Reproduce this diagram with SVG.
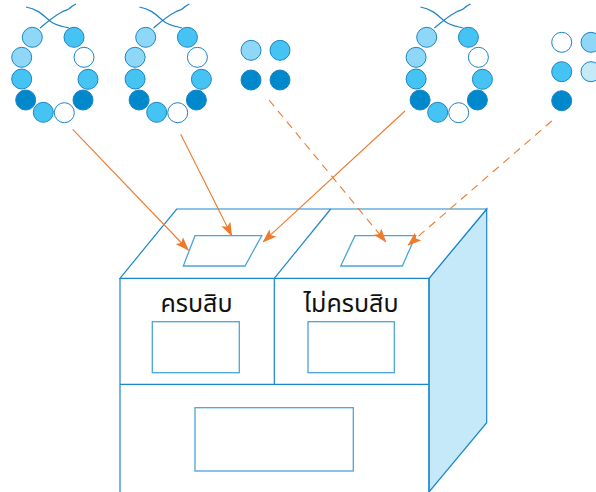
<svg xmlns="http://www.w3.org/2000/svg" width="596" height="492" viewBox="0 0 596 492">
  <style>
    .bead { stroke: #1a84c6; stroke-width: 1; }
    .b0 { fill: #ffffff; }
    .b1 { fill: #8fd7f6; }
    .b2 { fill: #45c3f2; }
    .b3 { fill: #0088cc; }
    .b4 { fill: #c6e9f8; }
    .string { fill: none; stroke: #1a84c6; stroke-width: 1.2; }
    .edge { fill: none; stroke: #1a86cc; stroke-width: 1.2; }
    .face { fill: #ffffff; stroke: #1a86cc; stroke-width: 1.2; }
    .side { fill: #c5e9f8; stroke: #1a86cc; stroke-width: 1.2; }
    .panel { fill: #ffffff; stroke: #4aa5dc; stroke-width: 1.3; }
    .label { font-family: "Noto Sans Thai", "Noto Sans", "DejaVu Sans", sans-serif; font-size: 25px; fill: #111111; text-anchor: middle; }
    .arrow { fill: none; stroke: #f07a2a; stroke-width: 1.1; marker-end: url(#head); }
    .dashed { stroke-dasharray: 8 6; }
  </style>
  <defs>
    <marker id="head" viewBox="0 0 14 10" refX="13" refY="5" markerWidth="14" markerHeight="10" markerUnits="userSpaceOnUse" orient="auto">
      <path d="M0,0 L14,5 L0,10 L3,5 Z" fill="#f07a2a"/>
    </marker>
    <!-- one ten-bead necklace, drawn at the origin -->
    <g id="necklace">
      <path class="string" d="M26,7 C38,9 44,16 50,21 S62,26 69,28"/>
      <path class="string" d="M40,28 C46,23 54,16 62,12 C66,10 68,10 70,8 C72,6 74,5 76,4"/>
      <circle class="bead b1" cx="32.3" cy="37.3" r="10"/>
      <circle class="bead b2" cx="74" cy="37.3" r="10"/>
      <circle class="bead b1" cx="21.7" cy="57.3" r="10"/>
      <circle class="bead b0" cx="84" cy="57.3" r="10"/>
      <circle class="bead b2" cx="21.7" cy="79" r="10"/>
      <circle class="bead b2" cx="88" cy="79.3" r="10"/>
      <circle class="bead b3" cx="25.7" cy="100" r="10"/>
      <circle class="bead b3" cx="83" cy="100" r="10"/>
      <circle class="bead b2" cx="43.3" cy="112.3" r="10"/>
      <circle class="bead b0" cx="64.3" cy="112.7" r="10"/>
    </g>
  </defs>

  <!-- necklaces and loose beads -->
  <g id="necklace-1"><use href="#necklace"/></g>
  <g id="necklace-2"><use href="#necklace" transform="translate(113.4 0)"/></g>
  <g id="beads-4">
    <circle class="bead b1" cx="251" cy="50.3" r="10"/>
    <circle class="bead b2" cx="280" cy="50.3" r="10"/>
    <circle class="bead b3" cx="251" cy="80" r="10"/>
    <circle class="bead b3" cx="280" cy="80" r="10"/>
  </g>
  <g id="necklace-3"><use href="#necklace" transform="translate(394.4 0)"/></g>
  <g id="beads-5">
    <circle class="bead b0" cx="561.7" cy="42.3" r="10"/>
    <circle class="bead b1" cx="591" cy="42.3" r="10"/>
    <circle class="bead b2" cx="561.7" cy="71.7" r="10"/>
    <circle class="bead b4" cx="591" cy="71.7" r="10"/>
    <circle class="bead b3" cx="561.7" cy="100.7" r="10"/>
  </g>

  <!-- sorting box -->
  <g id="box">
    <polygon class="side" points="429,278.3 486.7,209 486.7,422.7 429,492"/>
    <polygon class="face" points="176.7,209 486.7,209 429,278.3 120,278.3"/>
    <line class="edge" x1="330.7" y1="209" x2="274.3" y2="278.3"/>
    <polygon class="panel" points="195,235.7 261.7,235.7 245,266 183.3,266"/>
    <polygon class="panel" points="355,235.7 415.7,235.7 402.3,266 340.7,266"/>
    <path class="edge" d="M120,278.3 V492 M429,278.3 V492 M274.3,278.3 V384.3 M120,384.3 H429"/>
    <rect class="panel" x="152.3" y="321.7" width="87" height="51"/>
    <rect class="panel" x="308" y="321.7" width="86.3" height="51"/>
    <rect class="panel" x="195" y="407.7" width="158.3" height="63.3"/>
  </g>
  <g id="label-ten"><text class="label" x="196.5" y="311.5">ครบสิบ</text></g>
  <g id="label-not-ten"><text class="label" x="351" y="311.5">ไม่ครบสิบ</text></g>

  <!-- connectors: solid into the full-ten slot, dashed into the other -->
  <g id="connectors">
    <line class="arrow" x1="72.7" y1="129.3" x2="188.3" y2="250"/>
    <line class="arrow" x1="180.7" y1="134.3" x2="231.7" y2="235.7"/>
    <line class="arrow" x1="405" y1="111" x2="263.3" y2="241.7"/>
    <line class="arrow dashed" x1="269" y1="100" x2="385.7" y2="241.7"/>
    <line class="arrow dashed" x1="551.7" y1="121" x2="408.3" y2="245"/>
  </g>
</svg>
